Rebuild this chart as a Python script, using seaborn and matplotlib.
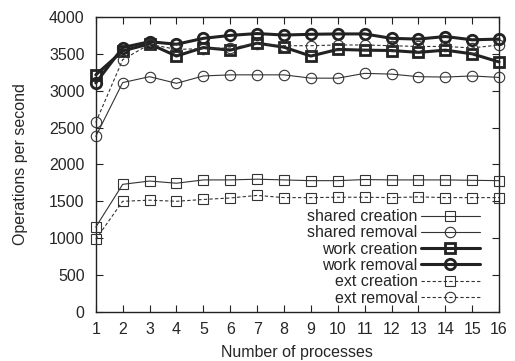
import numpy as np
import pandas as pd
import matplotlib
matplotlib.use("Agg")
import matplotlib.pyplot as plt
import seaborn as sns

processes = list(range(1, 17))
shared_creation = [1150, 1730, 1775, 1745, 1790, 1790, 1800, 1790, 1780, 1780, 1795, 1790, 1790, 1790, 1785, 1780]
shared_removal = [2380, 3110, 3190, 3100, 3200, 3215, 3215, 3215, 3170, 3170, 3235, 3225, 3190, 3185, 3200, 3180]
work_creation = [3215, 3540, 3635, 3470, 3585, 3550, 3645, 3590, 3470, 3560, 3550, 3545, 3520, 3550, 3500, 3390]
work_removal = [3105, 3585, 3665, 3630, 3710, 3750, 3775, 3755, 3765, 3770, 3770, 3710, 3700, 3735, 3690, 3700]
ext_creation = [985, 1500, 1515, 1500, 1525, 1545, 1580, 1550, 1550, 1555, 1555, 1550, 1560, 1550, 1550, 1550]
ext_removal = [2570, 3420, 3630, 3560, 3570, 3580, 3640, 3610, 3610, 3620, 3620, 3610, 3600, 3600, 3580, 3620]

series_names = ["shared creation", "shared removal", "work creation",
                "work removal", "ext creation", "ext removal"]
series_values = [shared_creation, shared_removal, work_creation,
                 work_removal, ext_creation, ext_removal]

df = pd.DataFrame({
    "Number of processes": processes * len(series_names),
    "Operations per second": sum(series_values, []),
    "series": [n for n in series_names for _ in processes],
})

sns.set_theme(style="ticks")
plt.rcParams["font.family"] = ["Liberation Sans", "DejaVu Sans"]
plt.rcParams["font.size"] = 11.5

fig = plt.figure(figsize=(5.15, 3.61), dpi=100)
ax = fig.add_axes([0.186, 0.136, 0.783, 0.817])

styles = {
    "shared creation": dict(marker="s", lw=0.8, ls="-", mew=0.8, color="#333333"),
    "shared removal": dict(marker="o", lw=0.8, ls="-", mew=0.8, color="#333333"),
    "work creation": dict(marker="s", lw=2.2, ls="-", mew=2.0, color="#222222"),
    "work removal": dict(marker="o", lw=2.2, ls="-", mew=2.0, color="#222222"),
    "ext creation": dict(marker="s", lw=0.8, ls=(0, (3, 2)), mew=0.8, color="#333333"),
    "ext removal": dict(marker="o", lw=0.8, ls=(0, (3, 2)), mew=0.8, color="#333333"),
}

for name in series_names:
    st = styles[name]
    sub = df[df["series"] == name]
    sns.lineplot(data=sub, x="Number of processes", y="Operations per second",
                 ax=ax, label=name, color=st["color"], linewidth=st["lw"],
                 linestyle=st["ls"], marker=st["marker"], markersize=7.5,
                 markerfacecolor="none", markeredgecolor=st["color"],
                 markeredgewidth=st["mew"], clip_on=False, zorder=3)

ax.set_xlim(1, 16)
ax.set_ylim(0, 4000)
ax.set_xticks(processes)
ax.set_yticks(np.arange(0, 4001, 500))
ax.tick_params(direction="in", length=5, width=0.8, top=True, right=True,
               labelsize=11.5, color="#222222")
ax.tick_params(axis="y", pad=8)
ax.tick_params(axis="x", pad=7)
for sp in ax.spines.values():
    sp.set_linewidth(1.0)
    sp.set_color("#222222")
ax.set_xlabel("Number of processes", fontsize=11.5, labelpad=6)
ax.set_ylabel("Operations per second", fontsize=11.5, labelpad=15)

leg = ax.legend(loc="lower right", bbox_to_anchor=(0.968, 0.0), frameon=False,
                markerfirst=False, handlelength=3.7, handletextpad=0.2,
                labelspacing=0.08, fontsize=11.5, borderaxespad=0.0,
                borderpad=0.4)

fig.savefig("out.png", dpi=100)
